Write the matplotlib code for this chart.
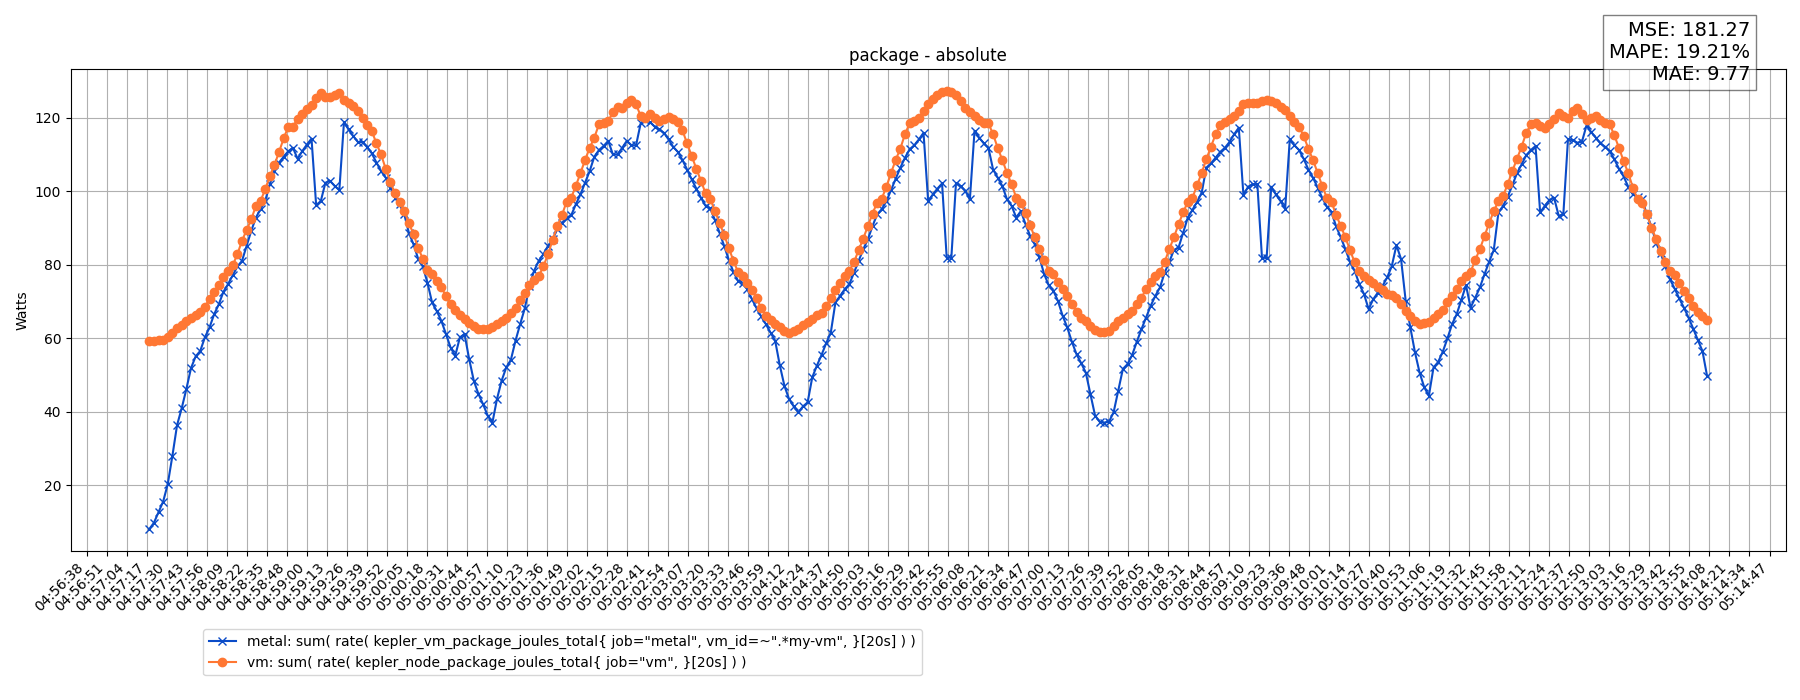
"""Pump package power: metal vs vm, absolute watts over time."""

import matplotlib
matplotlib.use("Agg")
import matplotlib.pyplot as plt
import numpy as np

# samples every 3 s starting at 04:57:18.6
SAMPLE_START = np.datetime64("2024-01-01T04:57:18.600")
SAMPLE_STEP = np.timedelta64(3000, "ms")

metal_watts = [
    8.0, 9.7, 12.6, 15.5, 20.3, 28.0, 36.3, 40.9, 46.1, 51.8,
    55.0, 56.5, 60.2, 62.9, 66.5, 69.2, 72.6, 74.7, 77.1, 79.5,
    81.0, 85.1, 89.2, 92.8, 95.1, 97.3, 101.9, 105.5, 107.8, 109.4,
    110.9, 111.8, 108.8, 110.9, 112.7, 114.3, 96.2, 97.3, 102.3, 102.8,
    101.4, 100.3, 118.8, 116.8, 115.0, 113.4, 113.4, 112.0, 110.3, 107.8,
    105.5, 103.7, 101.0, 98.2, 96.4, 93.7, 88.7, 85.5, 81.6, 79.5,
    75.1, 69.7, 67.4, 64.7, 61.1, 57.4, 55.2, 60.2, 61.1, 54.3,
    48.4, 44.8, 42.0, 38.9, 36.9, 43.4, 48.4, 52.0, 54.1, 59.3,
    63.8, 68.1, 74.2, 78.3, 81.0, 82.8, 85.1, 86.9, 89.6, 91.3,
    92.8, 93.4, 96.4, 99.1, 102.3, 105.5, 109.4, 111.2, 112.3, 113.7,
    110.0, 110.0, 111.8, 113.7, 112.5, 112.5, 118.5, 119.5, 118.8, 117.6,
    116.8, 115.9, 114.1, 112.1, 110.7, 108.5, 105.9, 103.2, 100.7, 98.2,
    96.0, 95.3, 92.2, 88.7, 85.1, 81.3, 78.0, 75.6, 74.9, 73.3,
    70.6, 68.1, 65.9, 63.8, 61.5, 59.3, 52.6, 47.0, 43.4, 41.4,
    39.8, 41.4, 42.5, 49.3, 52.5, 55.4, 58.6, 61.5, 69.7, 71.5,
    73.3, 74.7, 77.8, 81.0, 84.2, 86.9, 90.5, 93.7, 95.1, 97.3,
    100.3, 103.4, 106.4, 109.1, 111.4, 112.5, 114.1, 115.9, 97.3, 99.1,
    100.7, 102.1, 81.9, 81.9, 102.1, 101.4, 100.1, 97.8, 116.4, 114.6,
    113.0, 111.8, 105.9, 103.7, 101.4, 97.8, 96.0, 92.8, 94.6, 91.0,
    87.8, 85.5, 82.0, 77.5, 74.4, 72.9, 70.1, 66.1, 62.9, 59.0,
    55.6, 53.2, 50.6, 44.8, 38.9, 37.2, 37.0, 37.2, 39.8, 45.7,
    51.6, 52.9, 55.4, 59.0, 62.4, 65.6, 68.8, 71.5, 73.8, 77.8,
    80.7, 84.0, 84.6, 88.7, 92.8, 94.9, 97.1, 99.6, 106.4, 107.6,
    109.1, 110.7, 111.8, 113.4, 115.5, 117.3, 98.9, 101.2, 101.9, 101.9,
    81.9, 81.8, 101.2, 99.1, 97.3, 95.2, 114.1, 112.5, 111.2, 108.8,
    105.9, 103.7, 101.0, 98.2, 95.8, 94.2, 90.4, 87.4, 84.2, 80.7,
    78.3, 74.7, 72.0, 67.9, 70.6, 72.4, 74.2, 76.5, 79.6, 85.3,
    81.5, 70.1, 62.9, 56.1, 50.6, 46.6, 44.3, 52.0, 53.5, 56.3,
    59.9, 63.8, 66.5, 70.4, 74.4, 68.3, 71.0, 73.8, 77.4, 80.8,
    84.0, 94.2, 96.0, 98.5, 101.6, 104.9, 107.3, 109.8, 111.2, 112.3,
    94.2, 96.0, 97.6, 98.2, 93.3, 93.7, 114.1, 113.9, 113.2, 113.4,
    117.9, 116.1, 114.6, 113.0, 112.1, 110.9, 108.7, 106.1, 104.0, 101.2,
    99.1, 98.5, 97.8, 93.7, 90.4, 86.0, 83.1, 79.5, 76.0, 73.5,
    70.8, 68.3, 65.6, 62.6, 59.5, 56.5, 49.7,
]

vm_watts = [
    59.3, 59.3, 59.4, 59.4, 60.2, 61.5, 62.7, 63.5, 64.6, 65.5,
    66.2, 67.0, 68.6, 70.6, 72.6, 74.4, 76.5, 78.3, 79.8, 82.8,
    86.5, 89.4, 92.3, 96.0, 97.3, 100.5, 104.0, 107.1, 110.7, 114.4,
    117.6, 117.6, 119.7, 120.9, 122.3, 123.4, 125.4, 126.6, 125.6, 125.7,
    126.1, 126.8, 124.8, 124.1, 123.2, 121.8, 120.0, 118.0, 116.4, 113.0,
    110.0, 106.1, 102.5, 99.4, 97.1, 94.6, 91.3, 88.3, 84.6, 81.6,
    78.5, 77.4, 75.5, 73.8, 71.5, 69.4, 67.7, 66.2, 65.3, 64.2,
    63.2, 62.6, 62.4, 62.4, 62.9, 63.8, 64.7, 65.6, 66.7, 68.3,
    70.4, 72.2, 74.4, 75.8, 76.9, 79.5, 82.8, 86.7, 90.4, 93.4,
    97.1, 98.2, 101.4, 104.9, 108.5, 111.8, 114.6, 118.2, 118.6, 119.1,
    121.5, 123.0, 122.7, 123.9, 124.8, 123.6, 120.5, 120.0, 120.9, 120.0,
    119.1, 119.7, 120.3, 119.7, 118.8, 116.6, 113.0, 109.6, 106.1, 102.8,
    99.4, 98.0, 94.6, 91.4, 88.1, 84.6, 81.0, 78.0, 76.9, 75.1,
    73.1, 70.8, 68.1, 66.1, 65.0, 63.8, 62.9, 62.0, 61.5, 62.0,
    62.6, 63.5, 64.4, 65.3, 66.2, 66.8, 68.8, 70.8, 73.1, 74.9,
    76.8, 78.3, 80.7, 83.9, 87.1, 90.5, 93.9, 96.9, 98.0, 101.2,
    105.0, 108.5, 111.6, 115.5, 118.5, 119.1, 120.0, 121.8, 123.6, 125.2,
    126.3, 127.0, 127.3, 127.0, 126.3, 124.5, 122.7, 121.5, 120.5, 119.5,
    118.6, 118.5, 115.5, 111.8, 108.5, 105.0, 101.9, 98.2, 96.9, 94.0,
    90.7, 87.4, 84.2, 81.3, 78.3, 77.4, 75.3, 73.3, 71.5, 69.2,
    67.1, 65.6, 64.7, 63.3, 62.2, 61.7, 61.7, 62.0, 63.3, 64.6,
    65.6, 66.5, 67.4, 69.2, 71.0, 73.3, 75.3, 76.9, 78.0, 80.7,
    84.2, 87.4, 91.0, 94.2, 97.1, 98.2, 101.6, 105.0, 108.7, 112.1,
    115.5, 117.9, 118.8, 119.7, 120.5, 121.8, 123.6, 123.9, 123.9, 124.1,
    124.5, 124.8, 124.5, 124.1, 123.0, 122.1, 120.5, 118.8, 117.6, 115.0,
    111.6, 108.5, 105.0, 101.4, 98.2, 97.1, 93.5, 90.5, 87.4, 83.9,
    80.6, 78.3, 76.9, 75.8, 74.9, 74.0, 73.1, 71.9, 71.7, 71.0,
    69.2, 67.4, 65.9, 64.7, 63.8, 64.1, 64.5, 65.6, 66.5, 67.7,
    69.7, 71.5, 73.5, 75.6, 76.9, 78.0, 81.3, 84.2, 87.8, 91.3,
    94.6, 97.3, 98.7, 101.9, 105.5, 108.8, 112.1, 115.9, 118.2, 118.5,
    117.7, 117.3, 118.2, 119.7, 121.2, 120.6, 120.0, 121.8, 122.7, 120.9,
    119.5, 120.0, 120.6, 119.4, 118.5, 118.2, 115.2, 111.8, 108.2, 104.9,
    101.0, 97.8, 96.7, 93.7, 90.1, 87.1, 83.7, 80.7, 78.3, 77.1,
    74.9, 72.9, 70.8, 68.8, 67.0, 65.9, 65.0,
]

tick_labels = [
    "04:56:38", "04:56:51", "04:57:04", "04:57:17", "04:57:30", "04:57:43",
    "04:57:56", "04:58:09", "04:58:22", "04:58:35", "04:58:48", "04:59:00",
    "04:59:13", "04:59:26", "04:59:39", "04:59:52", "05:00:05", "05:00:18",
    "05:00:31", "05:00:44", "05:00:57", "05:01:10", "05:01:23", "05:01:36",
    "05:01:49", "05:02:02", "05:02:15", "05:02:28", "05:02:41", "05:02:54",
    "05:03:07", "05:03:20", "05:03:33", "05:03:46", "05:03:59", "05:04:12",
    "05:04:24", "05:04:37", "05:04:50", "05:05:03", "05:05:16", "05:05:29",
    "05:05:42", "05:05:55", "05:06:08", "05:06:21", "05:06:34", "05:06:47",
    "05:07:00", "05:07:13", "05:07:26", "05:07:39", "05:07:52", "05:08:05",
    "05:08:18", "05:08:31", "05:08:44", "05:08:57", "05:09:10", "05:09:23",
    "05:09:36", "05:09:48", "05:10:01", "05:10:14", "05:10:27", "05:10:40",
    "05:10:53", "05:11:06", "05:11:19", "05:11:32", "05:11:45", "05:11:58",
    "05:12:11", "05:12:24", "05:12:37", "05:12:50", "05:13:03", "05:13:16",
    "05:13:29", "05:13:42", "05:13:55", "05:14:08", "05:14:21", "05:14:34",
    "05:14:47",
]
FIRST_TICK = np.datetime64("2024-01-01T04:56:38.000")
LAST_TICK = np.datetime64("2024-01-01T05:14:47.000")

mse = 181.27
mape = 19.21
mae = 9.77

METAL_LABEL = 'metal: sum( rate( kepler_vm_package_joules_total{ job="metal", vm_id=~".*my-vm", }[20s] ) )'
VM_LABEL = 'vm: sum( rate( kepler_node_package_joules_total{ job="vm", }[20s] ) )'


def main() -> None:
    times = SAMPLE_START + SAMPLE_STEP * np.arange(len(metal_watts))
    span_ms = (LAST_TICK - FIRST_TICK).astype("timedelta64[ms]").astype(np.int64)
    tick_times = FIRST_TICK + np.linspace(0, span_ms, len(tick_labels)).astype("timedelta64[ms]")

    fig = plt.figure(figsize=(18, 7), dpi=100)
    ax = fig.add_axes([71 / 1800, 149 / 700, 1714.5 / 1800, 482 / 700])

    ax.plot(times, metal_watts, color="#0a4bc8", marker="x", lw=1.5, label=METAL_LABEL)
    ax.plot(times, vm_watts, color="#ff7733", marker="o", lw=1.5, label=VM_LABEL)

    ax.set_xticks(tick_times)
    ax.set_xticklabels(tick_labels, rotation=45, ha="right")
    ax.set_xlim(FIRST_TICK - np.timedelta64(10030, "ms"), LAST_TICK + np.timedelta64(10350, "ms"))
    ax.set_ylabel("Watts")
    ax.set_title("package - absolute")
    ax.grid(True)

    fig.legend(loc="upper left", bbox_to_anchor=(203 / 1800, 1 - 629 / 700), borderaxespad=0)
    fig.text(
        1750 / 1800, 1 - 21 / 700,
        f"MSE: {mse:.2f}\nMAPE: {mape:.2f}%\nMAE: {mae:.2f}",
        ha="right", va="top", multialignment="right", fontsize=14,
        bbox=dict(facecolor="white", alpha=0.5),
    )
    fig.savefig("out.png", dpi=100)
    plt.close(fig)


if __name__ == "__main__":
    main()
